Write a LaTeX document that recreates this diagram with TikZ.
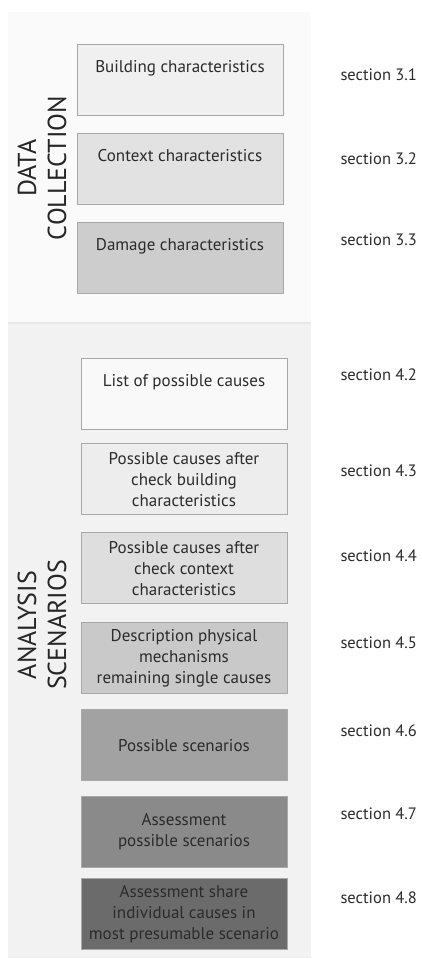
\documentclass[tikz,border=0pt]{standalone}
\usepackage{fontspec}
\setmainfont{PT Sans}
\usetikzlibrary{positioning}

\definecolor{panelA}{HTML}{FAFAFA}
\definecolor{panelB}{HTML}{F2F2F2}
\definecolor{panelrule}{HTML}{E8E8E8}
\definecolor{edgegray}{HTML}{A8A8A8}
\definecolor{inkgray}{HTML}{2B2B2B}
\definecolor{shadeA}{HTML}{F0F0F0}
\definecolor{shadeB}{HTML}{E2E2E2}
\definecolor{shadeC}{HTML}{CDCDCD}
\definecolor{shadeD}{HTML}{F9F9F9}
\definecolor{shadeE}{HTML}{EDEDED}
\definecolor{shadeF}{HTML}{DEDEDE}
\definecolor{shadeG}{HTML}{C9C9C9}
\definecolor{shadeH}{HTML}{A2A2A2}
\definecolor{shadeI}{HTML}{8A8A8A}
\definecolor{shadeJ}{HTML}{6B6B6B}

\tikzset{
  stage/.style={draw=edgegray, line width=0.9pt, minimum width=206pt,
    minimum height=71pt, inner sep=2pt, align=center, text=inkgray,
    font=\fontsize{17}{21}\selectfont},
  toptext/.style={anchor=north, yshift=-13pt, text=inkgray,
    font=\fontsize{17}{21}\selectfont},
  sect/.style={anchor=west, text=inkgray, font=\fontsize{16.5}{18}\selectfont},
  phase/.style={rotate=90, align=center, text=black!85,
    font=\fontsize{26}{30}\selectfont}
}

\begin{document}
\begin{tikzpicture}[x=1pt, y=1pt]

  \useasboundingbox (0,0) rectangle (421,-959) ;

  \fill [panelA] (8,-12) rectangle (311,-323) ;

  \fill [panelB] (8,-323) rectangle (311,-958) ;

  \draw [panelrule, line width=1.2pt] (8,-323) -- (311,-323) ;

  % data collection
  \node [stage, fill=shadeA, label={[toptext]north:Building characteristics}] (build) at (180,-80) {} ;

  \node [stage, fill=shadeB, below=17pt of build, label={[toptext]north:Context characteristics}] (context) {} ;

  \node [stage, fill=shadeC, below=17pt of context, label={[toptext]north:Damage characteristics}] (damage) {} ;

  \node [phase] (datacoll) at (42,-168) {DATA\\COLLECTION} ;

  % analysis scenarios
  \node [stage, fill=shadeD, label={[toptext]north:List of possible causes}] (causes) at (184,-393.5) {} ;

  \node [stage, fill=shadeE, below=14pt of causes] (building) {Possible causes after\\check building\\characteristics} ;

  \node [stage, fill=shadeF, below=17pt of building] (contexts) {Possible causes after\\check context\\characteristics} ;

  \node [stage, fill=shadeG, below=18pt of contexts] (mechanism) {Description physical\\mechanisms\\remaining single causes} ;

  \node [stage, fill=shadeH, below=15pt of mechanism] (scenarios) {Possible scenarios} ;

  \node [stage, fill=shadeI, below=15pt of scenarios] (assess) {Assessment\\possible scenarios} ;

  \node [stage, fill=shadeJ, below=10pt of assess] (share) {Assessment share\\individual causes in\\most presumable scenario} ;

  \node [phase] (analysis) at (42,-625) {ANALYSIS\\SCENARIOS} ;

  \node [sect] (s31) at (337,-75) {section 3.1} ;

  \node [sect] (s32) at (337,-159) {section 3.2} ;

  \node [sect] (s33) at (337,-240) {section 3.3} ;

  \node [sect] (s42) at (337,-375) {section 4.2} ;

  \node [sect] (s43) at (337,-471) {section 4.3} ;

  \node [sect] (s44) at (337,-556) {section 4.4} ;

  \node [sect] (s45) at (337,-643) {section 4.5} ;

  \node [sect] (s46) at (337,-731) {section 4.6} ;

  \node [sect] (s47) at (337,-814) {section 4.7} ;

  \node [sect] (s48) at (337,-898) {section 4.8} ;

\end{tikzpicture}
\end{document}
